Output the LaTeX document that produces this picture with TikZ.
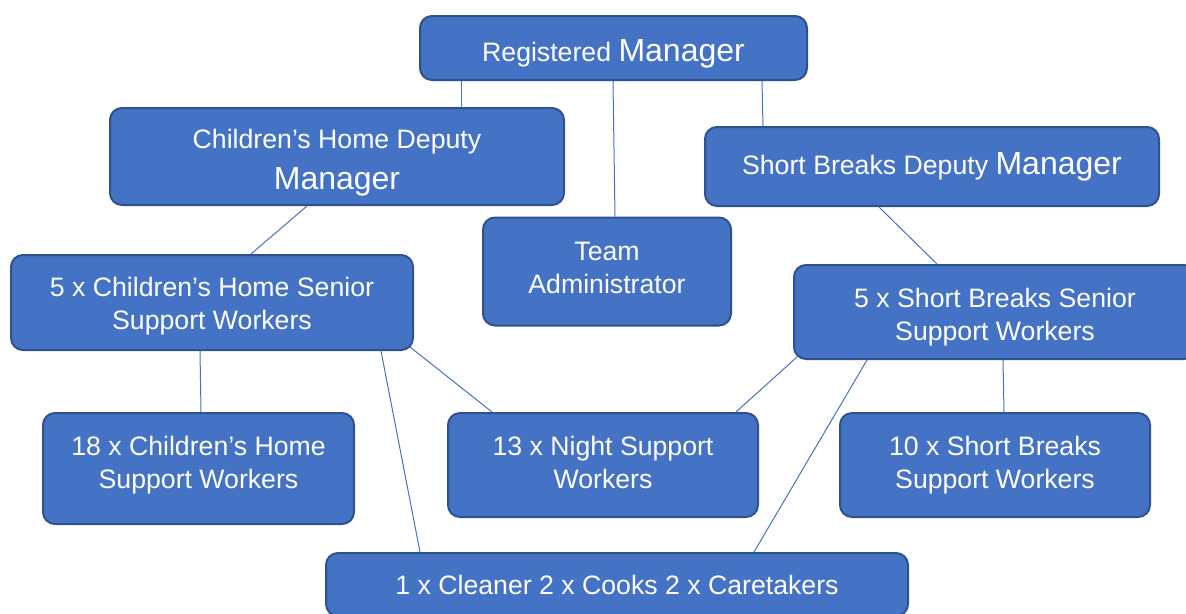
\documentclass[tikz,border=0pt]{standalone}
\usepackage{fontspec}
\setmainfont{Liberation Sans}
\usetikzlibrary{calc}
\usetikzlibrary{backgrounds}
\definecolor{boxfill}{RGB}{68,114,196}
\definecolor{boxline}{RGB}{47,82,143}
\definecolor{linkline}{RGB}{68,114,196}
\tikzset{
  orgbox/.style={draw=boxline, fill=boxfill, line width=1.5pt, rounded corners=9pt,
    text=white, align=center, inner sep=0pt,
    font=\fontsize{20}{24.75}\selectfont},
  link/.style={draw=linkline, line width=0.75pt}
}
\newcommand{\bigword}[1]{{\fontsize{24}{28.5}\selectfont #1}}
\newcommand{\topstrut}[1]{\rule{0pt}{#1}}
\newcommand{\botstrut}[1]{\rule[-#1]{0pt}{#1}}

\begin{document}
\begin{tikzpicture}[x=0.75pt,y=0.75pt,yscale=-1,xscale=1]
\clip (0,0) rectangle (1186,614);

%Shape: Rounded Rect [id:rm]
\node [orgbox, minimum width=290.25pt, minimum height=48pt] (rm) at (613.5,48) {\topstrut{24.5pt}Registered \bigword{Manager}};
%Shape: Rounded Rect [id:chdm]
\node [orgbox, minimum width=340.5pt, minimum height=72.75pt] (chdm) at (337,156.5) {\topstrut{24.4pt}Children’s Home Deputy\\[6pt]\bigword{Manager}};
%Shape: Rounded Rect [id:sbdm]
\node [orgbox, minimum width=340.5pt, minimum height=59.25pt] (sbdm) at (932,166.5) {Short Breaks Deputy \bigword{Manager}};
%Shape: Rounded Rect [id:ta]
\node [orgbox, minimum width=186pt, minimum height=81pt] (ta) at (607,271.5) {Team\\Administrator\botstrut{5.2pt}};
%Shape: Rounded Rect [id:chssw]
\node [orgbox, minimum width=301.5pt, minimum height=71.25pt] (chssw) at (212,302.5) {\topstrut{20.6pt}5 x Children’s Home Senior\\Support Workers};
%Shape: Rounded Rect [id:sbssw]
\node [orgbox, minimum width=301.5pt, minimum height=70.5pt] (sbssw) at (995,312) {\topstrut{22.1pt}5 x Short Breaks Senior\\Support Workers};
%Shape: Rounded Rect [id:chsw]
\node [orgbox, minimum width=233.25pt, minimum height=83.25pt] (chsw) at (198.5,468.5) {18 x Children’s Home\\Support Workers\botstrut{8.7pt}};
%Shape: Rounded Rect [id:nsw]
\node [orgbox, minimum width=232.5pt, minimum height=78pt] (nsw) at (603,465) {13 x Night Support\\Workers\botstrut{4.5pt}};
%Shape: Rounded Rect [id:sbsw]
\node [orgbox, minimum width=232.5pt, minimum height=78pt] (sbsw) at (995,465) {10 x Short Breaks\\Support Workers};
%Shape: Rounded Rect [id:staff]
\node [orgbox, minimum width=436.5pt, minimum height=47.25pt] (staff) at (617,584.5) {1 x Cleaner 2 x Cooks 2 x Caretakers};

%Straight Lines
\begin{scope}[on background layer]
\draw [link] ($(rm.south west)+(42,0)$) -- ($(chdm.north west)+(352,0)$);
\draw [link] ($(rm.south west)+(194,0)$) -- ($(ta.north west)+(133,0)$);
\draw [link] ($(rm.south west)+(343,0)$) -- ($(sbdm.north west)+(59,0)$);
\draw [link] ($(chdm.south west)+(198,0)$) -- ($(chssw.north west)+(241,0)$);
\draw [link] ($(sbdm.south west)+(175,0)$) -- ($(sbssw.north west)+(144,0)$);
\draw [link] ($(chssw.south west)+(190,0)$) -- ($(chsw.north west)+(159,0)$);
\draw [link] ($(chssw.south east)+(-4,-4)$) -- ($(nsw.north west)+(45,0)$);
\draw [link] ($(chssw.south east)+(-33,0)$) -- ($(staff.north west)+(95,0)$);
\draw [link] ($(sbssw.south west)+(4,-3)$) -- ($(nsw.north east)+(-23,0)$);
\draw [link] ($(sbssw.south west)+(74,0)$) -- ($(staff.north east)+(-155,0)$);
\draw [link] ($(sbssw.south west)+(210,0)$) -- ($(sbsw.north west)+(165,0)$);
\end{scope}

\end{tikzpicture}
\end{document}
